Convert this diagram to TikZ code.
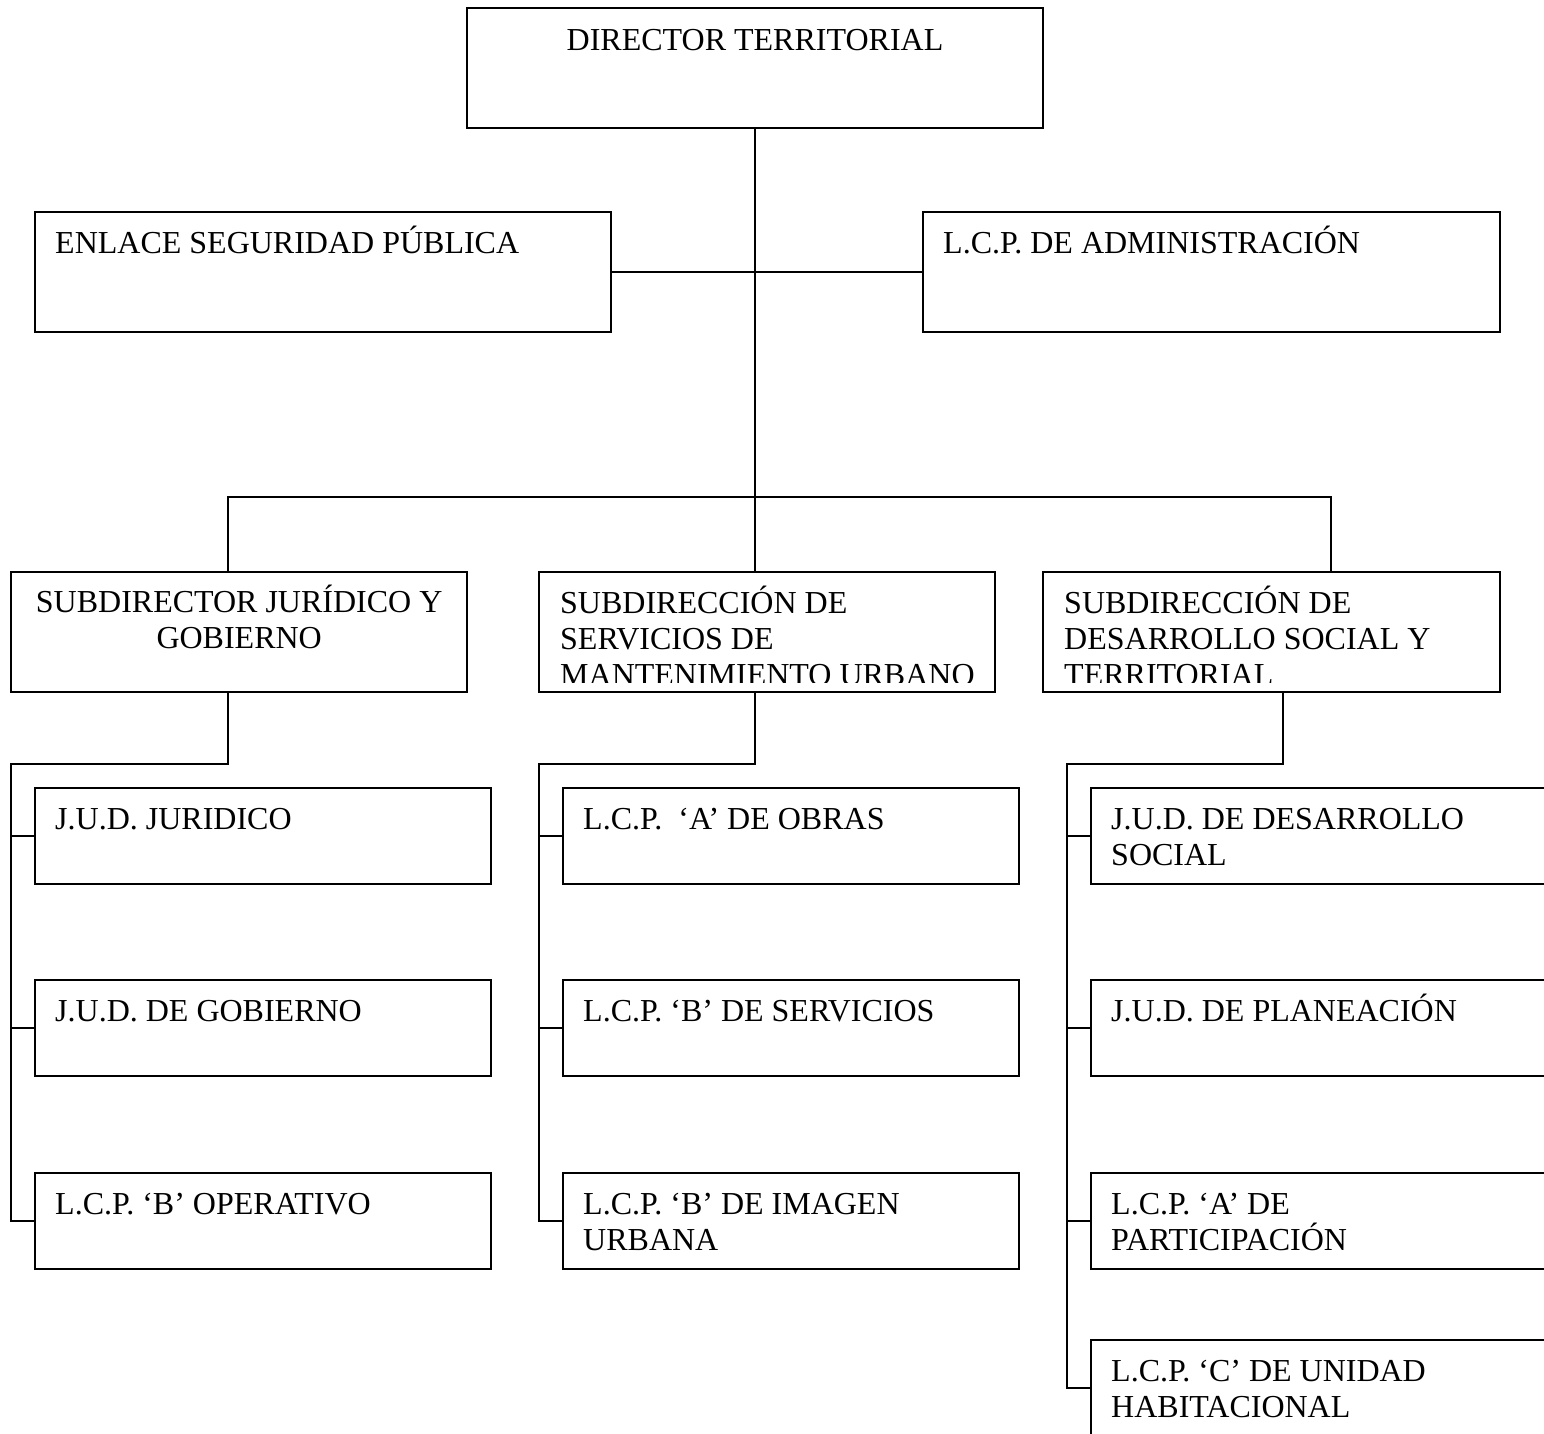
\documentclass[tikz,border=0pt]{standalone}
\usepackage{fontspec}
\setmainfont{Liberation Serif}
\usepackage{tikz}
\usetikzlibrary{positioning, calc}

\begin{document}
\begin{tikzpicture}[
    x=1pt, y=-1pt,
    unit/.style={rectangle, draw=black, line width=1.8pt, anchor=north west, inner sep=0pt, outer sep=0pt, minimum width=456pt, minimum height=120pt},
    wideunit/.style={unit, minimum width=576pt},
    lowunit/.style={unit, minimum height=96pt},
    txt/.style={anchor=base west, inner sep=0pt, font=\fontsize{32}{36}\selectfont},
    link/.style={line width=1.8pt}
]
\useasboundingbox (0,0) rectangle (1544,1434);

% Top level
\node[wideunit] (dir) at (467,8) {};
\node[wideunit] (enlace) at (35,212) {};
\node[wideunit, minimum width=577pt] (admin) at (923,212) {};
\node[txt, anchor=base] (dirtxt) at (755,51) {DIRECTOR TERRITORIAL};
\node[txt] (enlacetxt) at (55,253) {ENLACE SEGURIDAD PÚBLICA};
\node[txt] (admintxt) at (943,253) {L.C.P. DE ADMINISTRACIÓN};

% Subdirecciones
\node[unit] (subjur) at (11,572) {};
\node[unit] (subserv) at (539,572) {};
\node[unit, minimum width=457pt] (subdes) at (1043,572) {};
\node[txt] (subjurtxt) at (11,612) {\parbox[t]{456pt}{\centering SUBDIRECTOR JURÍDICO Y\\GOBIERNO}};
\begin{scope}
  \clip (subserv.north west) rectangle ($(subserv.south east)+(0,-10)$);
  \node[txt] (subservtxt) at (560,613) {\parbox[t]{450pt}{\raggedright SUBDIRECCIÓN DE\\SERVICIOS DE\\MANTENIMIENTO URBANO}};
\end{scope}
\begin{scope}
  \clip (subdes.north west) rectangle ($(subdes.south east)+(0,-10)$);
  \node[txt] (subdestxt) at (1064,613) {\parbox[t]{430pt}{\raggedright SUBDIRECCIÓN DE\\DESARROLLO SOCIAL Y\\TERRITORIAL}};
\end{scope}

% Jefaturas y lideres
\node[lowunit] (jurid) at (35,788) {};
\node[lowunit] (gobier) at (35,980) {};
\node[lowunit] (operat) at (35,1173) {};
\node[lowunit] (obras) at (563,788) {};
\node[lowunit] (servic) at (563,980) {};
\node[lowunit] (imagen) at (563,1173) {};
\node[lowunit] (desarr) at (1091,788) {};
\node[lowunit] (planea) at (1091,980) {};
\node[lowunit] (partic) at (1091,1173) {};
\node[lowunit] (unidad) at (1091,1340) {};

\node[txt] (juridtxt) at (55,829) {J.U.D. JURIDICO};
\node[txt] (gobiertxt) at (55,1021) {J.U.D. DE GOBIERNO};
\node[txt] (operattxt) at (55,1214) {L.C.P. ‘B’ OPERATIVO};
\node[txt] (obrastxt) at (583,829) {L.C.P.~~‘A’ DE OBRAS};
\node[txt] (servictxt) at (583,1021) {L.C.P. ‘B’ DE SERVICIOS};
\node[txt] (imagentxt) at (583,1214) {\parbox[t]{430pt}{L.C.P. ‘B’ DE IMAGEN\\URBANA}};
\node[txt] (desarrtxt) at (1111,829) {\parbox[t]{430pt}{J.U.D. DE DESARROLLO\\SOCIAL}};
\node[txt] (planeatxt) at (1111,1021) {J.U.D. DE PLANEACIÓN};
\node[txt] (partictxt) at (1111,1214) {\parbox[t]{430pt}{L.C.P. ‘A’ DE\\PARTICIPACIÓN}};
\node[txt] (unidadtxt) at (1111,1381) {\parbox[t]{430pt}{L.C.P. ‘C’ DE UNIDAD\\HABITACIONAL}};

% Connectors
\coordinate (bus1) at (228,497);
\coordinate (bus3) at (1331,497);
\coordinate (k1) at (228,764);
\coordinate (k2) at (755,764);
\coordinate (k3) at (1283,764);
\coordinate (sp1) at (11,764);
\coordinate (sp2) at (539,764);
\coordinate (sp3) at (1067,764);

\draw[link] (dir.south) -- (dir.south |- subserv.north);
\draw[link] (enlace.east) -- (admin.west);
\draw[link] (bus1 |- subjur.north) -- (bus1) -- (bus3) -- (bus3 |- subdes.north);

\draw[link] (k1 |- subjur.south) -- (k1) -- (sp1) |- (operat.west);
\foreach \n in {jurid, gobier}
  \draw[link] (sp1 |- \n.west) -- (\n.west);

\draw[link] (k2 |- subserv.south) -- (k2) -- (sp2) |- (imagen.west);
\foreach \n in {obras, servic}
  \draw[link] (sp2 |- \n.west) -- (\n.west);

\draw[link] (k3 |- subdes.south) -- (k3) -- (sp3) |- (unidad.west);
\foreach \n in {desarr, planea, partic}
  \draw[link] (sp3 |- \n.west) -- (\n.west);

\end{tikzpicture}
\end{document}
